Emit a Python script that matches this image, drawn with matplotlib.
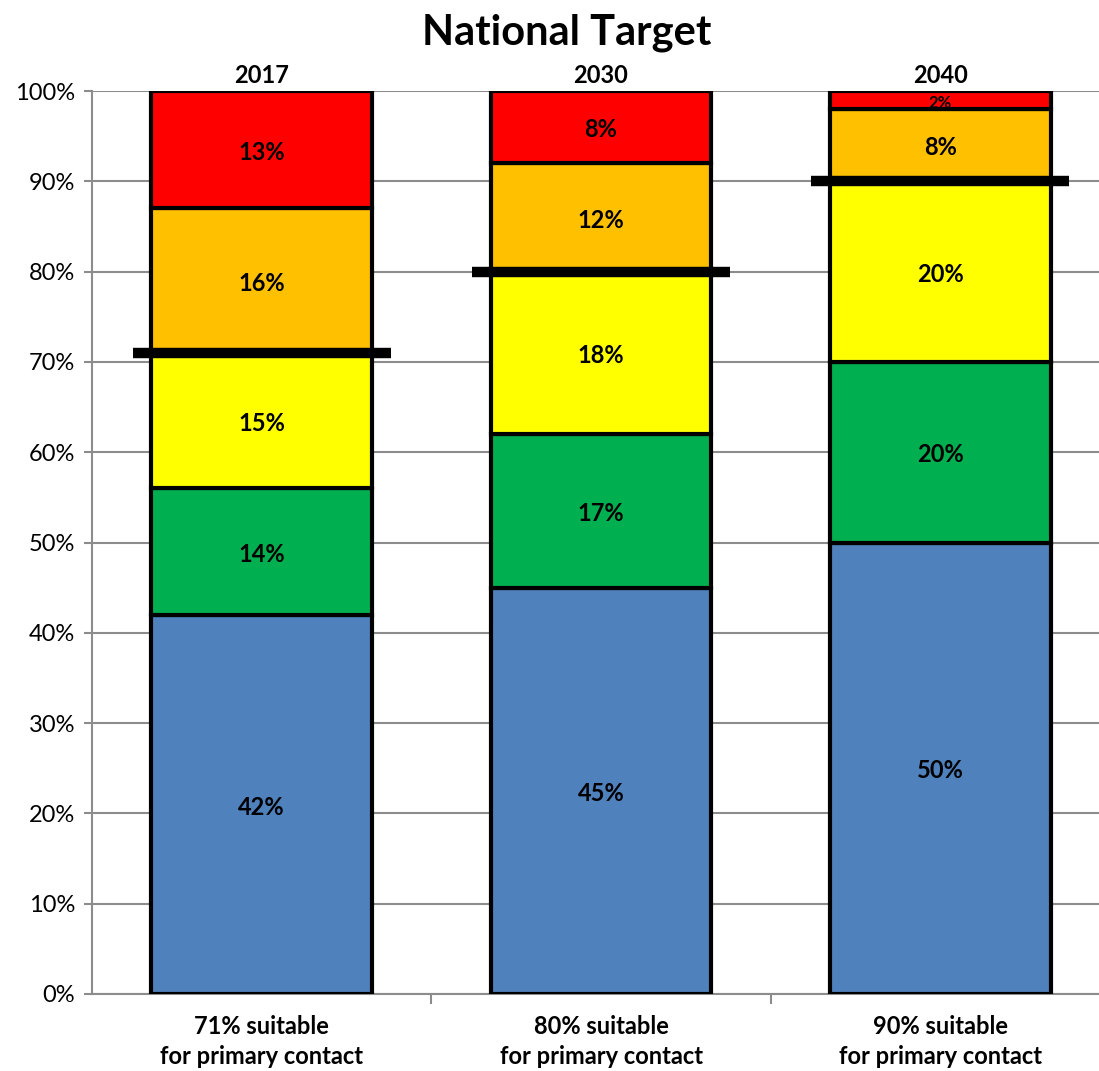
import matplotlib.pyplot as plt
import numpy as np

plt.rcParams['font.family'] = ['Lato', 'DejaVu Sans']

categories = ["71% suitable\nfor primary contact",
              "80% suitable\nfor primary contact",
              "90% suitable\nfor primary contact"]
years = ["2017", "2030", "2040"]
blue = [42, 45, 50]
green = [14, 17, 20]
yellow = [15, 18, 20]
orange = [16, 12, 8]
red = [13, 8, 2]
targets = [71, 80, 90]

series = [blue, green, yellow, orange, red]
colors = ["#4F81BD", "#00B050", "#FFFF00", "#FFC000", "#FF0000"]

fig = plt.figure(figsize=(10.99, 10.71), dpi=100)
ax = fig.add_axes([92 / 1099, 1 - 994 / 1071, 1018 / 1099, 903 / 1071])

x = np.arange(len(categories))
bottom = np.zeros(len(categories))
for vals, col in zip(series, colors):
    ax.bar(x, vals, 0.65, bottom=bottom, color=col,
           edgecolor="black", linewidth=3, zorder=3)
    for i, v in enumerate(vals):
        fs = 12 if v < 4 else 17
        ax.text(x[i], bottom[i] + v / 2 - 0.3, f"{v}%", ha="center", va="center",
                fontsize=fs, fontweight="bold", zorder=5)
    bottom += vals

for i, t in enumerate(targets):
    ax.plot([x[i] - 0.38, x[i] + 0.38], [t, t], color="black",
            linewidth=7.5, solid_capstyle="butt", zorder=4)

ax.set_xlim(-0.5, 2.5)
ax.set_ylim(0, 100)
ax.set_yticks(range(0, 101, 10))
ax.set_yticklabels([f"{v}%" for v in range(0, 101, 10)], fontsize=17)
ax.yaxis.grid(True, color="#8c8c8c", linewidth=1.5, zorder=0)
ax.set_xticks(x)
ax.set_xticklabels(categories, fontsize=17, fontweight="bold", linespacing=1.4)
ax.set_xticks([0.5, 1.5], minor=True)
ax.tick_params(axis="x", which="major", length=0, pad=15)
ax.tick_params(axis="x", which="minor", length=7, color="#8c8c8c", width=1.5)
ax.tick_params(axis="y", length=6, color="#8c8c8c", width=1.5, pad=6)
for s in ["top", "right"]:
    ax.spines[s].set_visible(False)
for s in ["left", "bottom"]:
    ax.spines[s].set_color("#8c8c8c")
    ax.spines[s].set_linewidth(1.5)

top = ax.twiny()
top.set_xlim(ax.get_xlim())
top.set_xticks(x)
top.set_xticklabels(years, fontsize=17, fontweight="bold")
top.tick_params(axis="x", length=0, pad=3)
for s in top.spines.values():
    s.set_visible(False)

fig.text(567 / 1099, 1 - 33 / 1071, "National Target", ha="center", va="center",
         fontsize=30, fontweight="bold")

fig.savefig("out.png", dpi=100)
